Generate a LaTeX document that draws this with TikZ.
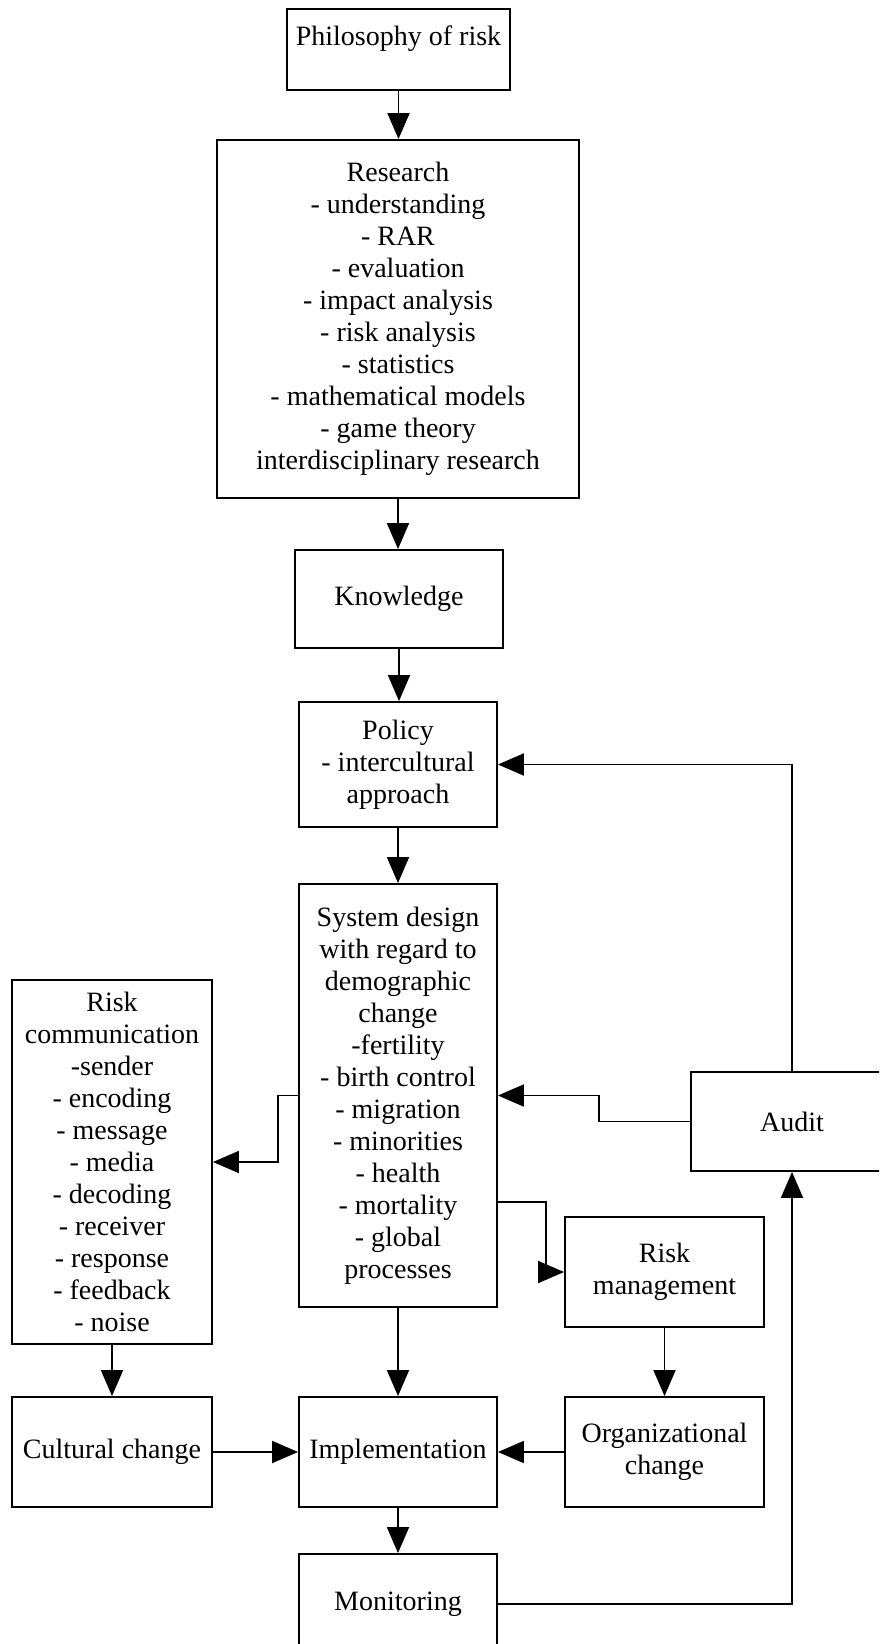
\documentclass[tikz,border=0pt]{standalone}
\usepackage{fontspec}
\setmainfont{Liberation Serif}
\usetikzlibrary{arrows.meta}
\begin{document}
\begin{tikzpicture}[x=0.75pt,y=-0.75pt,
  nbox/.style 2 args={draw, line width=1.4pt, minimum width=#1*0.75pt, minimum height=#2*0.75pt,
     inner sep=0pt, align=center, font=\fontsize{21pt}{24pt}\selectfont},
  conn/.style={line width=1.4pt, -{Triangle[length=19.5pt,width=16.5pt]}}]
\useasboundingbox (0,0) rectangle (879,1644);
\fill[white] (0,0) rectangle (879,1644);
\clip (0,0) rectangle (879,1644);

\node[nbox={223}{81}, text depth=21pt] (phil) at (398.5,49.5) {Philosophy of risk};
\node[nbox={362}{358}] (research) at (398,319) {Research\\- understanding\\- RAR\\- evaluation\\- impact analysis\\- risk analysis\\- statistics\\- mathematical models\\- game theory\\interdisciplinary research};
\node[nbox={208}{98}] (know) at (399,599) {Knowledge};
\node[nbox={198}{125}] (policy) at (398,764.5) {Policy\\- intercultural\\approach};
\node[nbox={198}{423}] (system) at (398,1095.5) {System design\\with regard to\\demographic\\change\\-fertility\\- birth control\\- migration\\- minorities\\- health\\- mortality\\- global\\processes};
\node[nbox={200}{364}] (riskcomm) at (112,1162) {Risk\\communication\\-sender\\- encoding\\- message\\- media\\- decoding\\- receiver\\- response\\- feedback\\- noise};
\node[nbox={202}{99}] (audit) at (792,1121.5) {Audit};
\node[nbox={199}{110}] (riskmgmt) at (664.5,1272) {Risk\\management};
\node[nbox={200}{110}] (cultural) at (112,1452) {Cultural change};
\node[nbox={198}{110}] (impl) at (398,1452) {Implementation};
\node[nbox={199}{110}] (org) at (664.5,1452) {Organizational\\change};
\node[nbox={198}{100}] (monitor) at (398,1604) {Monitoring};

\draw[conn] (phil.south) -- (phil.south |- research.north);
\draw[conn] (research.south) -- (research.south |- know.north);
\draw[conn] (know.south) -- (know.south |- policy.north);
\draw[conn] (policy.south) -- (policy.south |- system.north);
\draw[conn] (system.south) -- (system.south |- impl.north);
\draw[conn] (impl.south) -- (impl.south |- monitor.north);
\draw[conn] (riskcomm.south) -- (riskcomm.south |- cultural.north);
\draw[conn] (riskmgmt.south) -- (riskmgmt.south |- org.north);
\draw[conn] (cultural.east) -- (impl.west);
\draw[conn] (org.west) -- (impl.east);
\draw[conn] (system.west) -- ++(-20,0) |- (riskcomm.east);
\draw[conn] (audit.west) -- ++(-91,0) |- (system.east);
\draw[conn] ([yshift=-79.9pt]system.east) -- ++(48,0) |- (riskmgmt.west);
\draw[conn] (audit.north) |- (policy.east);
\draw[conn] (monitor.east) -| (audit.south);
\end{tikzpicture}
\end{document}
